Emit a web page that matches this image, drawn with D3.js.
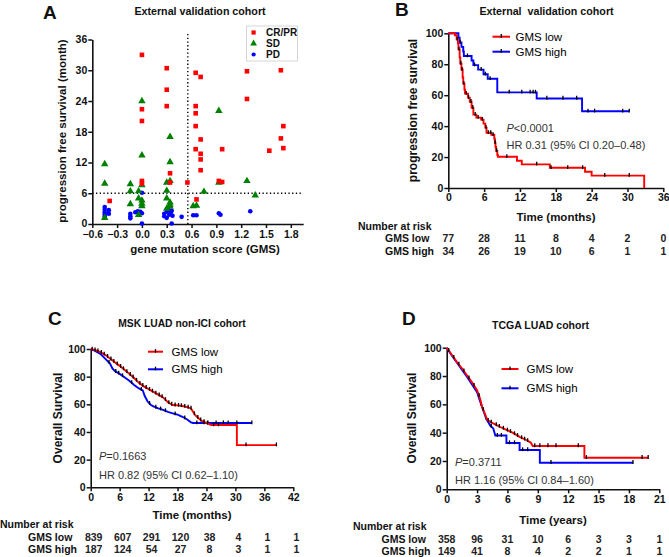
<!DOCTYPE html>
<html><head><meta charset="utf-8">
<script src="https://cdn.jsdelivr.net/npm/d3@7"></script>
<style>
html,body{margin:0;padding:0;background:#fff;}
svg{display:block;font-family:"Liberation Sans",Arial,sans-serif;}
</style></head><body>
<svg id="chart" width="669" height="557"></svg>
<script>
// ---------------- DATA ----------------
// Panel A scatter: [GMS, PFS months]
const crpr = [[0.0,33.0],[0.30,30.4],[0.30,26.2],[0.30,23.0],[0.0,22.4],[0.0,20.1],[0.65,29.5],[0.71,28.7],[0.65,23.0],[0.65,21.6],[0.65,19.1],[0.71,16.5],[0.65,14.6],[0.97,14.6],[1.27,29.8],[1.27,24.4],[1.68,30.0],[1.71,19.1],[1.68,16.7],[1.71,14.8],[1.54,14.3],[0.71,13.7],[0.71,12.6],[0.71,10.5],[0.93,8.4],[0.97,8.2],[0.55,8.1],[0.66,4.8],[0.0,8.4],[0.0,7.9],[0.34,9.9],[0.34,8.1],[-0.39,4.5]];
const sd = [[0.0,24.0],[0.34,17.0],[0.93,22.1],[-0.45,11.7],[-0.45,7.9],[-0.45,1.2],[-0.14,7.8],[-0.14,6.4],[-0.14,3.9],[0.0,13.4],[-0.04,6.4],[0.0,7.6],[-0.04,5.0],[0.0,4.6],[0.0,4.0],[0.0,3.5],[-0.04,1.8],[0.34,12.1],[0.30,8.1],[0.34,8.4],[0.30,6.5],[0.30,5.0],[0.34,4.2],[0.34,3.8],[0.34,3.4],[0.30,3.0],[0.75,6.3],[0.62,3.5],[0.66,3.6],[0.93,8.1],[1.27,8.4],[1.37,5.6]];
const pd = [[-0.45,3.3],[-0.45,2.8],[-0.45,2.3],[-0.45,1.8],[-0.45,1.4],[-0.40,2.7],[-0.40,2.0],[-0.14,2.0],[-0.14,1.5],[-0.14,1.1],[-0.08,2.3],[-0.05,2.5],[-0.02,2.4],[0.0,2.1],[0.0,6.1],[0.0,0.1],[0.27,2.0],[0.27,1.5],[0.30,2.4],[0.30,1.2],[0.32,2.8],[0.33,1.8],[0.35,2.2],[0.36,2.6],[0.37,1.6],[0.36,0.1],[0.48,1.4],[0.62,1.7],[0.66,1.7],[0.93,2.1],[0.95,1.8],[1.31,2.5]];
const aCutX = 0.555, aCutY = 6;
const aXTicks = [-0.6,-0.3,0.0,0.3,0.6,0.9,1.2,1.5,1.8];
const aYTicks = [0,6,12,18,24,30,36];
const aLegend = ["CR/PR","SD","PD"];

// Panel B KM (step): [time, survival %]
const bLow = [[0,100],[1.1,98.7],[1.4,96.1],[1.6,93.5],[1.7,89.6],[1.9,84.4],[2.0,80.5],[2.2,76.6],[2.4,71.4],[2.5,67.5],[2.7,63.6],[2.8,61.0],[3.3,58.4],[3.6,55.8],[3.9,51.9],[4.2,47.4],[4.7,45.5],[5.5,44.2],[5.9,41.6],[6.2,39.0],[6.4,35.7],[7.2,34.4],[7.7,31.8],[7.8,29.2],[7.9,26.6],[8.0,24.0],[8.2,21.4],[8.3,20.2],[11.5,17.6],[12.3,15.3],[17.0,13.1],[22.9,10.5],[24.0,8.0],[32.8,0]];
const bHigh = [[0,100],[1.7,97.1],[1.9,94.1],[2.2,91.2],[2.5,88.2],[2.6,85.3],[3.9,82.4],[4.2,79.4],[5.0,76.5],[5.9,73.5],[6.6,70.6],[8.2,61.8],[14.8,57.9],[22.4,49.6],[30.3,49.6]];
const bLowCens = [1.5,1.8,2.1,2.3,2.6,3.0,3.4,3.8,4.1,4.5,5.0,5.7,6.3,6.7,7.1,7.5,7.85,8.1,9.8,14.8,17.2,20.0,22.5,26.2,30.3];
const bHighCens = [2.0,3.2,4.4,5.5,6.2,7.0,10.2,12.3,13.7,14.2,14.6,16.5,19.2,21.5,23.4,24.5,29.2,30.3];
const bTicks = [0,6,12,18,24,30,36];
const bRiskLow = [77,28,11,8,4,2,0];
const bRiskHigh = [34,26,19,10,6,1,1];

// Panel C KM (drawn vertices)
const cLow = [[0,100],[1,99.2],[2,97.8],[3,95.8],[4,93.2],[5,90.4],[6,87.8],[7,85],[8,82],[9,79],[10,75.5],[11,73],[12,71],[13,69],[14,67],[15,65],[16,61.5],[17,59.5],[18,59.2],[19,58.8],[20,58],[20.8,57],[21.5,53],[22,51],[23,48],[24,46.5],[25,45],[30.3,45],[30.3,30.5],[38.5,30.5]];
const cHigh = [[0,100],[1,98.5],[2,96.5],[3,93],[4,89.5],[4.5,86],[5,84],[6,82],[7,79.5],[8,77],[9,74],[10,71.5],[10.8,70],[11.2,66],[11.8,62],[12.5,59.5],[13,58.5],[14,57],[15,56],[16,54.5],[17,53.5],[18,52.5],[19,51],[20,49],[20.8,47],[21.2,46.5],[33.4,46.5]];
const cLowCens = [0.3,0.9,1.5,2.2,2.8,3.5,4.2,4.8,5.5,6.2,6.8,7.5,8.2,8.8,9.5,10.2,10.8,11.5,12.2,12.8,13.5,14.2,14.8,15.5,16.2,16.8,17.5,18.2,18.8,19.5,20.2,20.8,21.5,22.2,22.8,23.5,24.2,25.5,26.5,32.2,38.5];
const cHighCens = [3.8,5.2,5.8,6.6,8.5,10.5,12.2,13.5,14.5,15.5,17.5,19.5,22.0,23.5,24.3,26.0,27.5,28.5,30.3,33.4];
const cTicks = [0,6,12,18,24,30,36,42];
const cRiskLow = [839,607,291,120,38,4,1,1];
const cRiskHigh = [187,124,54,27,8,3,1,1];

// Panel D KM (drawn vertices)
const dLow = [[0,100],[0.5,95],[1,90],[1.5,85.5],[2,80.5],[2.5,75.5],[3,70],[3.3,64],[3.5,58],[3.8,53],[4,49],[4.6,46.5],[5.3,44],[5.9,42],[6.5,40],[7.2,37],[7.8,35],[8.3,33],[8.5,30.6],[13.6,30.6],[13.6,22.3],[19.9,22.3]];
const dHigh = [[0,100],[0.5,94.5],[1,89.5],[1.5,84.5],[2,79.5],[2.5,74],[3,68.5],[3.3,62],[3.6,56],[3.9,50],[4.3,45],[4.6,43],[4.8,38],[5.9,38],[5.9,32.7],[7.2,32.7],[7.2,27.8],[9.2,27.8],[9.2,18.8],[18.4,18.8]];
const dLowCens = [0.2,0.7,1.2,1.7,2.2,2.7,3.2,3.6,4.1,4.4,4.9,5.2,5.6,6.0,6.3,6.7,7.0,7.4,7.7,8.0,8.7,9.2,10.0,10.8,13.0,13.8,19.3,19.9];
const dHighCens = [3.4,3.9,4.4,5.0,5.4,6.2,6.7,7.5,8.0,10.3,18.4];
const dTicks = [0,3,6,9,12,15,18,21];
const dRiskLow = [358,96,31,10,6,3,3,1];
const dRiskHigh = [149,41,8,4,2,2,1,1];

const survTicks = [0,20,40,60,80,100];
const RED = "#ff0000", BLUE = "#0000ff", GREEN = "#008000", INK = "#111";

// ---------------- HELPERS ----------------
const svg = d3.select("#chart");
const FONT = '"Liberation Sans", Arial, sans-serif';

function styleAxis(sel){
  sel.attr("font-family", null);
  sel.select(".domain").attr("stroke", INK).attr("stroke-width", 1.6);
  sel.selectAll(".tick line").attr("stroke", INK).attr("stroke-width", 1.5);
  sel.selectAll(".tick text").attr("fill", INK)
    .style("font-size","10.5px").style("font-weight","bold").style("font-family",FONT);
}
function axes(x, y, xt, yt, xfmt, yfmt, xpad = 2){
  const gx = svg.append("g").attr("transform",`translate(0,${y.range()[0]})`)
    .call(d3.axisBottom(x).tickValues(xt).tickSize(4).tickSizeOuter(0).tickPadding(xpad).tickFormat(xfmt));
  styleAxis(gx);
  const gy = svg.append("g").attr("transform",`translate(${x.range()[0]},0)`)
    .call(d3.axisLeft(y).tickValues(yt).tickSize(4).tickSizeOuter(0).tickPadding(1).tickFormat(yfmt));
  styleAxis(gy);
  return gy;
}
function text(x, y, s, o = {}){
  const t = svg.append("text").attr("x", x).attr("y", y).text(s)
    .style("font-size", (o.size || 10.5) + "px")
    .style("font-weight", o.weight || "bold")
    .attr("fill", o.fill || INK)
    .attr("text-anchor", o.anchor || "start");
  if (o.rotate) t.attr("transform", `rotate(-90,${x},${y})`);
  return t;
}
function stepValue(pts, t){
  let v = pts[0][1];
  for (const p of pts) { if (p[0] <= t) v = p[1]; }
  return v;
}
function linValue(pts, t){
  for (let i = 0; i < pts.length - 1; i++){
    const a = pts[i], b = pts[i+1];
    if (t >= a[0] && t <= b[0] && b[0] > a[0]) return a[1] + (b[1]-a[1])*(t-a[0])/(b[0]-a[0]);
  }
  return pts[pts.length-1][1];
}
function km(x, y, pts, color, curve, cens, valueFn){
  svg.append("path").datum(pts)
    .attr("d", d3.line().x(d=>x(d[0])).y(d=>y(d[1])).curve(curve))
    .attr("fill","none").attr("stroke",color).attr("stroke-width",1.9);
  svg.append("g").selectAll("line").data(cens).join("line")
    .attr("x1", t=>x(t)).attr("x2", t=>x(t))
    .attr("y1", t=>y(valueFn(pts,t))-2.6).attr("y2", t=>y(valueFn(pts,t))+1.2)
    .attr("stroke","#000").attr("stroke-width",1.3);
}
function kmLegend(x1, x2, ys, tx, labels, colors){
  labels.forEach((l,i)=>{
    svg.append("line").attr("x1",x1).attr("x2",x2).attr("y1",ys[i]).attr("y2",ys[i])
      .attr("stroke",colors[i]).attr("stroke-width",2);
    const xm = (x1+x2)/2;
    svg.append("line").attr("x1",xm).attr("x2",xm).attr("y1",ys[i]-2.6).attr("y2",ys[i]+1)
      .attr("stroke","#000").attr("stroke-width",1.3);
    text(tx, ys[i]+4, l, {size:11.5, weight:"normal", fill:"#000"});
  });
}
function riskTable(x, ticks, xHead, yHead, xLab, yLow, yHigh, low, high, dx = 0){
  text(xHead, yHead, "Number at risk", {size:10.5});
  text(xLab, yLow, "GMS low", {size:10.5});
  text(xLab, yHigh, "GMS high", {size:10.5});
  ticks.forEach((t,i)=>{
    text(x(t)+dx, yLow, low[i], {size:10.5, anchor:"middle", fill:"#222"});
    text(x(t)+dx, yHigh, high[i], {size:10.5, anchor:"middle", fill:"#222"});
  });
}
function pText(x, y1, y2, op, val, hr){
  const t = svg.append("text").attr("x", x).attr("y", y1).attr("fill","#333").style("font-size","11px");
  t.append("tspan").style("font-style","italic").text("P");
  t.append("tspan").text(op + val);
  text(x, y2, hr, {size:11, weight:"normal", fill:"#333"});
}

// ---------------- PANEL A ----------------
{
  const x = d3.scaleLinear().domain([-0.6,1.95]).range([92.3,303.2]);
  const y = d3.scaleLinear().domain([0,36]).range([224,39.5]);
  svg.append("line").attr("x1",x(aCutX)).attr("x2",x(aCutX)).attr("y1",y(0)).attr("y2",y(37.4))
    .attr("stroke","#000").attr("stroke-width",1.4).attr("stroke-dasharray","1.3,2.4");
  svg.append("line").attr("x1",x(-0.6)).attr("x2",x(1.95)).attr("y1",y(aCutY)).attr("y2",y(aCutY))
    .attr("stroke","#000").attr("stroke-width",1.4).attr("stroke-dasharray","1.3,2.4");
  const gy = axes(x, y, aXTicks, aYTicks, d3.format(".1f"), d3.format("d"), 3);
  gy.selectAll(".tick text").filter(d => d === 0).attr("dy", "0.2em");
  const tri = d3.symbol().type(d3.symbolTriangle).size(24);
  svg.append("g").selectAll("circle").data(pd).join("circle")
    .attr("cx",d=>x(d[0])).attr("cy",d=>y(d[1])).attr("r",2.3).attr("fill",BLUE);
  svg.append("g").selectAll("path").data(sd).join("path")
    .attr("d",tri).attr("transform",d=>`translate(${x(d[0])},${y(d[1])})`).attr("fill",GREEN);
  svg.append("g").selectAll("rect").data(crpr).join("rect")
    .attr("x",d=>x(d[0])-2.3).attr("y",d=>y(d[1])-2.3).attr("width",4.6).attr("height",4.6).attr("fill",RED);
  svg.append("rect").attr("x",246.5).attr("y",26).attr("width",51).attr("height",35)
    .attr("fill","#fff").attr("stroke","#ccc").attr("stroke-width",0.8);
  const ly = [32.5,43.5,54.5];
  svg.append("rect").attr("x",251.5).attr("y",ly[0]-2.1).attr("width",4.2).attr("height",4.2).attr("fill",RED);
  svg.append("path").attr("d",d3.symbol().type(d3.symbolTriangle).size(20)).attr("transform",`translate(253.6,${ly[1]})`).attr("fill",GREEN);
  svg.append("circle").attr("cx",253.6).attr("cy",ly[2]).attr("r",2.1).attr("fill",BLUE);
  aLegend.forEach((l,i)=> text(266, ly[i]+3.7, l, {size:10}));
  text(200, 15, "External validation cohort", {size:10.7, anchor:"middle"});
  text(43, 19, "A", {size:19});
  text(66, 131, "progression free survival (month)", {size:11.5, anchor:"middle", rotate:true});
  text(205, 253, "gene mutation score (GMS)", {size:11.5, anchor:"middle"});
}

// ---------------- PANEL B ----------------
{
  const x = d3.scaleLinear().domain([0,36]).range([448.3,663.3]);
  const y = d3.scaleLinear().domain([0,100]).range([188,33.3]);
  axes(x, y, bTicks, survTicks, d3.format("d"), d3.format("d"));
  km(x, y, bHigh, BLUE, d3.curveStepAfter, bHighCens, stepValue);
  km(x, y, bLow, RED, d3.curveStepAfter, bLowCens, stepValue);
  kmLegend(492.5, 510, [36.7, 51.7], 515.5, ["GMS low","GMS high"], [RED, BLUE]);
  pText(506.5, 131.5, 148.5, "<", "0.0001", "HR 0.31 (95% CI 0.20–0.48)");
  text(546.5, 15, "External  validation cohort", {size:10.7, anchor:"middle"}).style("white-space","pre");
  text(395, 16, "B", {size:19});
  text(417, 110.5, "progression free survival", {size:12, anchor:"middle", rotate:true});
  text(556, 221, "Time (months)", {size:11.5, anchor:"middle"});
  riskTable(x, bTicks, 358, 229.5, 385, 242, 254.5, bRiskLow, bRiskHigh);
}

// ---------------- PANEL C ----------------
{
  const x = d3.scaleLinear().domain([0,42]).range([90.7,293.3]);
  const y = d3.scaleLinear().domain([0,100]).range([487.3,349]);
  axes(x, y, cTicks, survTicks, d3.format("d"), d3.format("d"));
  km(x, y, cHigh, BLUE, d3.curveLinear, cHighCens, linValue);
  km(x, y, cLow, RED, d3.curveLinear, cLowCens, linValue);
  kmLegend(148, 163, [351.7, 369.3], 171.5, ["GMS low","GMS high"], [RED, BLUE]);
  pText(99, 460, 478.5, "=", "0.1663", "HR 0.82 (95% CI 0.62–1.10)");
  text(182, 327, "MSK LUAD non-ICI cohort", {size:10.3, anchor:"middle"});
  text(48, 325, "C", {size:19});
  text(62, 418, "Overall Survival", {size:12, anchor:"middle", rotate:true});
  text(192, 519, "Time (months)", {size:11.5, anchor:"middle"});
  riskTable(x, cTicks, 0, 528, 28, 540.5, 552.5, cRiskLow, cRiskHigh, 3);
}

// ---------------- PANEL D ----------------
{
  const x = d3.scaleLinear().domain([0,21]).range([446.7,659.3]);
  const y = d3.scaleLinear().domain([0,100]).range([489.3,347.7]);
  axes(x, y, dTicks, survTicks, d3.format("d"), d3.format("d"));
  km(x, y, dHigh, BLUE, d3.curveLinear, dHighCens, linValue);
  km(x, y, dLow, RED, d3.curveLinear, dLowCens, linValue);
  kmLegend(501.5, 518.5, [369, 388.3], 526.5, ["GMS low","GMS high"], [RED, BLUE]);
  pText(455, 465.5, 484, "=", "0.3711", "HR 1.16 (95% CI 0.84–1.60)");
  text(540.5, 329, "TCGA LUAD cohort", {size:10.5, anchor:"middle"});
  text(402, 325, "D", {size:19});
  text(416, 418, "Overall Survival", {size:12, anchor:"middle", rotate:true});
  text(553, 523.5, "Time (years)", {size:11.5, anchor:"middle"});
  riskTable(x, dTicks, 353, 530, 381.5, 543, 555, dRiskLow, dRiskHigh);
}
</script></body></html>
